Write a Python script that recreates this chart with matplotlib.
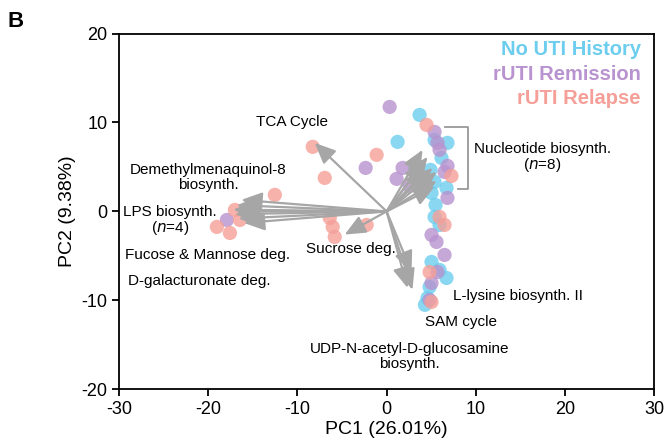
import matplotlib
matplotlib.use("Agg")
import matplotlib.pyplot as plt

plt.rcParams['font.family'] = ['Liberation Sans', 'DejaVu Sans']
plt.rcParams['axes.unicode_minus'] = False

# sample scores (PC1, PC2)
no_uti_x = [3.70, 1.23, 5.38, 6.83, 6.16, 4.93, 5.38, 6.72, 5.04, 5.49, 5.38, 5.94,
            5.04, 5.94, 6.72, 4.82, 4.59, 4.30]
no_uti_y = [10.85, 7.82, 8.04, 7.71, 6.02, 4.67, 3.32, 2.64, 2.08, 0.73, -0.62, -1.52,
            -5.68, -6.58, -7.48, -8.49, -9.73, -10.50]

remission_x = [0.34, 5.38, 5.71, 5.94, -2.35, 1.79, 1.12, 2.58, 6.83, 6.50, 6.83,
               5.04, 5.60, 6.50, 5.71, 5.04, 4.82, -17.92]
remission_y = [11.75, 8.94, 7.71, 6.92, 4.89, 4.89, 3.66, 2.87, 5.12, 4.44, 1.52,
               -2.64, -3.43, -4.89, -6.81, -8.04, -9.96, -0.96]

relapse_x = [4.48, -1.12, -8.29, -6.94, -12.54, -15.01, -17.02, -16.46, -19.04, -17.58,
             -6.38, -6.05, -5.82, -2.24, 7.28, 5.94, 6.50, 4.82, 5.04]
relapse_y = [9.73, 6.36, 7.26, 3.77, 1.86, 0.73, 0.17, -0.96, -1.74, -2.42,
             -0.73, -1.74, -2.87, -1.52, 3.99, -0.62, -1.52, -6.81, -10.18]

# loading arrow tips
arrow_x = [-8.06,
           -16.3, -16.8, -17.2, -17.0, -16.6, -16.0, -16.5,
           -4.7,
           4.03, 4.59, 4.26, 5.15, 5.60, 4.48, 5.38, 5.60,
           2.8, 2.9, 2.35]
arrow_y = [7.7,
           1.3, 0.7, 0.2, -0.3, -0.8, -1.3, 0.0,
           -2.6,
           6.92, 6.13, 5.57, 4.89, 4.44, 4.67, 2.76, 3.43,
           -6.8, -8.8, -8.6]

labels = ["TCA Cycle", "Demethylmenaquinol-8\nbiosynth.", "LPS biosynth.\n($n$=4)",
          "Fucose & Mannose deg.", "D-galacturonate deg.", "Sucrose deg.",
          "Nucleotide biosynth.\n($n$=8)", "L-lysine biosynth. II", "SAM cycle",
          "UDP-N-acetyl-D-glucosamine\nbiosynth."]
label_x = [-10.6, -20.0, -24.3, -20.1, -21.0, -4.0, 17.5, 14.7, 8.3, 2.6]
label_y = [10.1, 3.8, -1.07, -4.9, -7.8, -4.2, 6.0, -9.5, -12.4, -16.3]

groups = ["No UTI History", "rUTI Remission", "rUTI Relapse"]
colors = ["#6ccdee", "#b893cf", "#f59f98"]

fig = plt.figure(figsize=(6.66, 4.47), dpi=100)
ax = fig.add_axes([0.179, 0.129, 0.803, 0.796])

for xs, ys, c in zip([no_uti_x, remission_x, relapse_x],
                     [no_uti_y, remission_y, relapse_y], colors):
    ax.scatter(xs, ys, s=105, color=c, alpha=0.8, edgecolors='none', zorder=2)

for tx, ty in zip(arrow_x, arrow_y):
    ax.annotate("", xy=(tx, ty), xytext=(0, 0), zorder=3,
                arrowprops=dict(arrowstyle='-|>,head_length=0.9,head_width=0.4',
                                color='#a6a6a6', lw=1.6, mutation_scale=14,
                                shrinkA=0, shrinkB=0))

for lab, lx, ly in zip(labels, label_x, label_y):
    ax.text(lx, ly, lab, ha='center', va='center', fontsize=11, multialignment='center',
            linespacing=1.05, zorder=4)

# bracket around nucleotide arrows
ax.plot([6.5, 9.18, 9.18, 8.06], [9.5, 9.5, 2.53, 2.53], color='#999999', lw=1.3, zorder=1)

for i, (g, c) in enumerate(zip(groups, colors)):
    ax.text(0.975, 0.954 - i * 0.069, g, transform=ax.transAxes, ha='right', va='center',
            fontsize=14.5, fontweight='bold', color=c)

ax.set_xlim(-30, 30)
ax.set_ylim(-20, 20)
ax.set_xticks([-30, -20, -10, 0, 10, 20, 30])
ax.set_yticks([-20, -10, 0, 10, 20])
ax.tick_params(direction='out', length=5, width=1.3, labelsize=13)
for sp in ax.spines.values():
    sp.set_linewidth(1.3)
ax.set_xlabel("PC1 (26.01%)", fontsize=14, labelpad=2)
ax.set_ylabel("PC2 (9.38%)", fontsize=14, labelpad=4)

fig.text(0.012, 0.975, "B", fontsize=16, fontweight='bold', va='top', ha='left')

fig.savefig("out.png", dpi=100)
